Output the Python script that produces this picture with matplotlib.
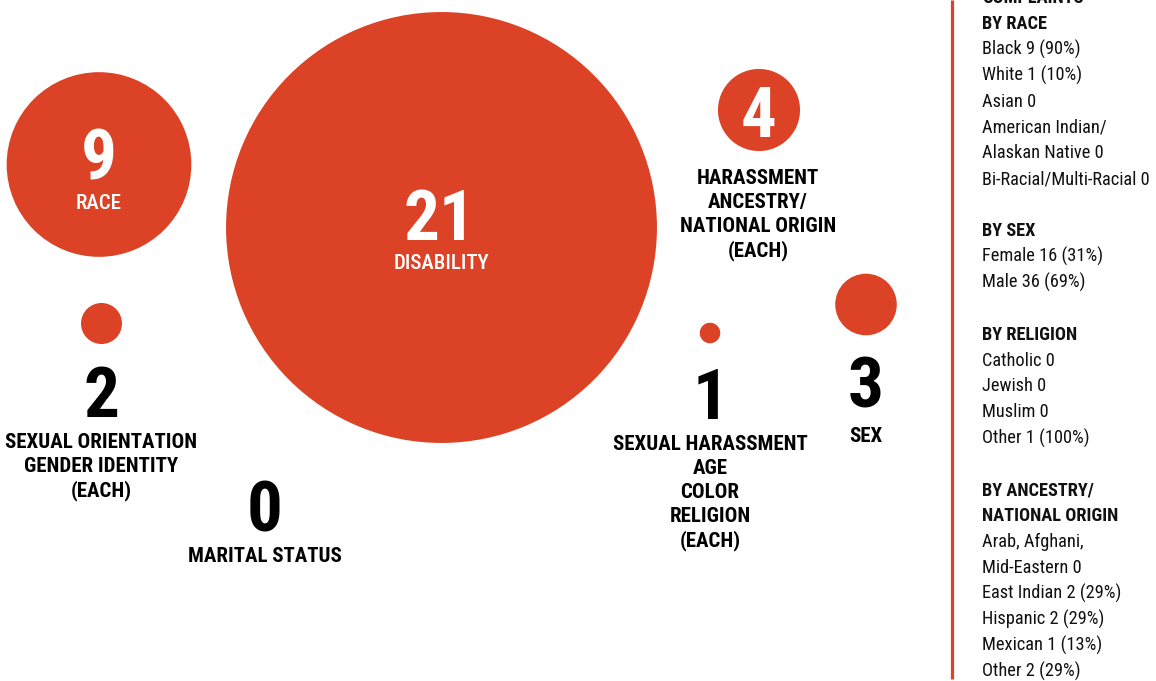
import matplotlib
matplotlib.use("Agg")
import matplotlib.pyplot as plt
from matplotlib.patches import Circle
from matplotlib import font_manager

# ---------------- data ----------------
counts = [9, 21, 4, 2, 1, 3, 0]
categories = [
    ["RACE"],
    ["DISABILITY"],
    ["HARASSMENT", "ANCESTRY/", "NATIONAL ORIGIN", "(EACH)"],
    ["SEXUAL ORIENTATION", "GENDER IDENTITY", "(EACH)"],
    ["SEXUAL HARASSMENT", "AGE", "COLOR", "RELIGION", "(EACH)"],
    ["SEX"],
    ["MARITAL STATUS"],
]

race_names = ["Black", "White", "Asian", "American Indian/\nAlaskan Native", "Bi-Racial/Multi-Racial"]
race_counts = [9, 1, 0, 0, 0]
race_pcts = [90, 10, None, None, None]

sex_names = ["Female", "Male"]
sex_counts = [16, 36]
sex_pcts = [31, 69]

religion_names = ["Catholic", "Jewish", "Muslim", "Other"]
religion_counts = [0, 0, 0, 1]
religion_pcts = [None, None, None, 100]

ancestry_names = ["Arab, Afghani,\nMid-Eastern", "East Indian", "Hispanic", "Mexican", "Other"]
ancestry_counts = [0, 2, 2, 1, 2]
ancestry_pcts = [None, 29, 29, 13, 29]

# ---------------- layout ----------------
RED = "#DC4326"
W, H = 1156, 681
px_per_unit = 10.26  # bubble radius per complaint

circle_xy = [(99, 164.5), (441.5, 227.5), (759, 110), (101.5, 323.5), (710, 333), (866, 304.5), (265, 520)]
number_xy = [(99, 179), (439, 240), (759, 137), (101, 417), (710, 419), (866, 407), (265, 532)]
label_x = [99, 441, 758, 101, 710, 866, 265]
label_y0 = [209, 269, 184, 448, 450, 442, 562]
inside = [True, True, True, False, False, False, False]
label_inside = [True, True, False, False, False, False, False]
LINE = 24

names = {f.name for f in font_manager.fontManager.ttflist}
fam = None
stretch = "normal"
for cand in ["Roboto Condensed", "Liberation Sans Narrow", "Open Sans Condensed"]:
    if cand in names:
        fam = cand
        break
if fam is None:
    fam = "DejaVu Sans"
    stretch = "condensed"

fig = plt.figure(figsize=(W / 100, H / 100), dpi=100)
ax = fig.add_axes([0, 0, 1, 1])
ax.set_xlim(0, W)
ax.set_ylim(H, 0)
ax.set_aspect("equal")
ax.axis("off")

for i, v in enumerate(counts):
    if v > 0:
        ax.add_patch(Circle(circle_xy[i], v * px_per_unit, color=RED, lw=0, zorder=1))
    ncol = "white" if inside[i] else "black"
    ax.text(number_xy[i][0], number_xy[i][1], str(v), ha="center", va="baseline",
            fontsize=51, fontweight="bold", family=fam, stretch=stretch, color=ncol, zorder=3)
    lcol = "white" if label_inside[i] else "black"
    for j, line in enumerate(categories[i]):
        ax.text(label_x[i], label_y0[i] + j * LINE, line, ha="center", va="baseline",
                fontsize=15, fontweight="bold" if not label_inside[i] else "medium",
                family=fam, stretch=stretch, color=lcol, zorder=3)

# ---------------- sidebar ----------------
ax.plot([952, 952], [0, 679], color=RED, lw=2.3, solid_capstyle="butt")


def fmt(n, c, p):
    s = f"{n} {c}"
    if p is not None:
        s += f" ({p}%)"
    return s


lines = [("COMPLAINTS", True), ("BY RACE", True)]
for n, c, p in zip(race_names, race_counts, race_pcts):
    for part in fmt(n, c, p).split("\n"):
        lines.append((part, False))
lines.append(("", False))
lines.append(("BY SEX", True))
for n, c, p in zip(sex_names, sex_counts, sex_pcts):
    lines.append((fmt(n, c, p), False))
lines.append(("", False))
lines.append(("BY RELIGION", True))
for n, c, p in zip(religion_names, religion_counts, religion_pcts):
    lines.append((fmt(n, c, p), False))
lines.append(("", False))
lines.append(("BY ANCESTRY/", True))
lines.append(("NATIONAL ORIGIN", True))
for n, c, p in zip(ancestry_names, ancestry_counts, ancestry_pcts):
    for part in fmt(n, c, p).split("\n"):
        lines.append((part, False))

y = 3.0
for txt, bold in lines:
    if txt:
        ax.text(982, y, txt, ha="left", va="baseline", fontsize=13.2,
                fontweight="bold" if bold else "normal", family=fam, stretch=stretch,
                color="#111111", zorder=3)
    y += 25.9

fig.savefig("out.png", dpi=100)
